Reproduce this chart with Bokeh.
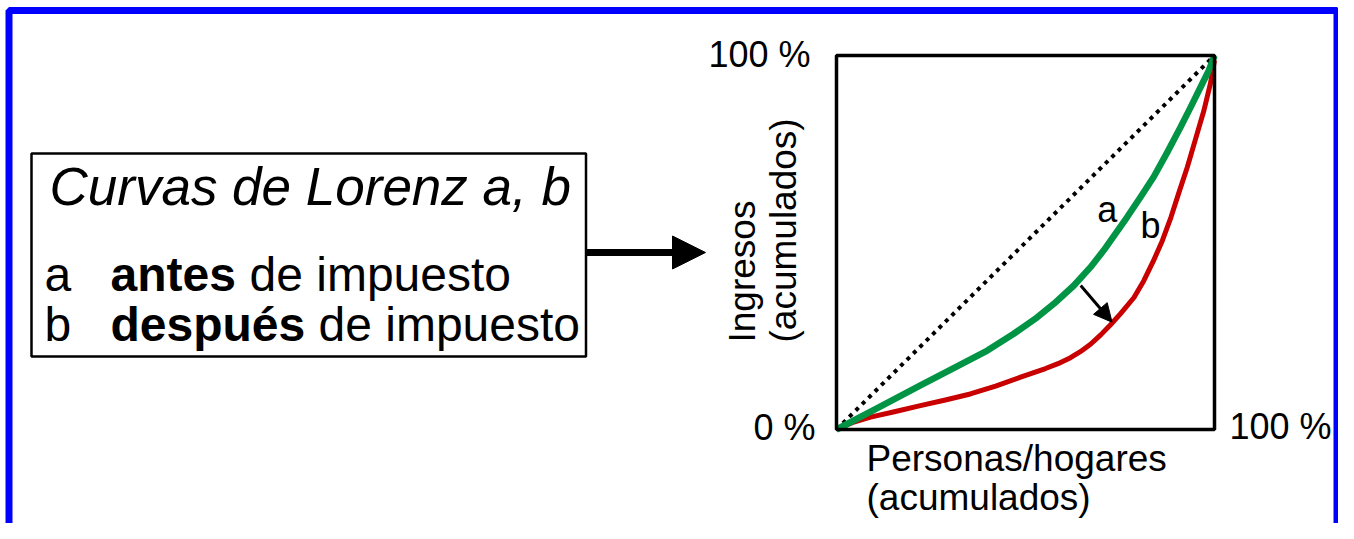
import math
from bokeh.plotting import figure
from bokeh.models import Range1d, Arrow, NormalHead
from bokeh.core.properties import value
from bokeh.embed import file_html
from bokeh.resources import INLINE

# ---------------- data (Lorenz space, 0..100 %) ----------------
equality_x = [0, 100]
equality_y = [0, 100]

curve_a_x = [0, 10.8, 22.2, 31.0, 39.9, 46.9, 53.1, 57.5, 62.8, 67.2, 70.7, 76.9,
             80.4, 83.9, 87.5, 91.0, 93.7, 96.3, 98.5, 100]
curve_a_y = [0, 5.7, 11.8, 16.4, 21.1, 25.6, 30.0, 33.6, 38.5, 43.4, 47.9, 56.8,
             62.1, 67.5, 74.1, 80.8, 86.2, 91.5, 96.0, 100]

curve_b_x = [0, 4.6, 9.0, 15.6, 22.2, 28.8, 35.4, 42.1, 48.7, 55.3, 58.6, 61.9, 64.5,
             67.2, 69.9, 72.5, 75.1, 78.7, 81.3, 83.9, 86.2, 88.5, 90.6, 92.8, 95.0,
             97.2, 98.9, 100]
curve_b_y = [0, 2.0, 3.3, 4.8, 6.4, 7.9, 9.5, 11.6, 14.0, 16.3, 17.6, 19.2, 20.8,
             22.8, 25.3, 28.0, 30.9, 35.3, 39.8, 45.2, 50.5, 56.8, 63.4, 70.1, 77.7,
             85.3, 92.4, 98.7]

shift_arrow_from = (64.6, 38.5)
shift_arrow_to = (72.9, 28.7)

tick_labels = ["0 %", "100 %", "100 %"]
y_title = ["Ingresos", "(acumulados)"]
x_title = ["Personas/hogares", "(acumulados)"]
box_title = "Curvas de Lorenz a, b"
legend_keys = ["a", "b"]
legend_bold = ["antes", "después"]
legend_rest = ["de impuesto", "de impuesto"]

# ---------------- layout (screen pixels) ----------------
W, H = 1338, 523
SQ_L, SQ_R, SQ_T, SQ_B = 836, 1214, 55, 429   # Lorenz square frame
FIX = 0.38   # renderer places alphabetic baseline ~0.38 em lower than given

sx = (SQ_R - SQ_L) / 100.0
sy = (SQ_B - SQ_T) / 100.0


def bl(y, size):
    return y - FIX * size


p = figure(width=W, height=H, output_backend="svg", toolbar_location=None,
           x_range=Range1d(0, W), y_range=Range1d(H, 0),
           x_axis_location=None, y_axis_location=None, min_border=0)
p.grid.visible = False
p.outline_line_color = None
p.background_fill_color = "white"
p.border_fill_color = "white"

p.extra_x_ranges = {"lz": Range1d((0 - SQ_L) / sx, (W - SQ_L) / sx)}
p.extra_y_ranges = {"lz": Range1d((SQ_B - H) / sy, (SQ_B - 0) / sy)}

FONT = value("Liberation Sans")

# blue page border
p.quad(left=8.5, right=1336.5, top=10, bottom=570, fill_color=None,
       line_color="#0000FF", line_width=7)

# ---------------- left box ----------------
p.quad(left=31, right=585.5, top=153, bottom=356, fill_color="white",
       line_color="black", line_width=2.5)
p.text(x=[49], y=[bl(206, 53)], text=[box_title], text_font=FONT, text_font_size="53px",
       text_font_style="italic", text_align="left", text_baseline="alphabetic",
       text_color="black")
p.text(x=[44, 44], y=[bl(292, 48), bl(342, 48)], text=legend_keys, text_font=FONT,
       text_font_size="48px", text_align="left", text_baseline="alphabetic",
       text_color="black")
p.text(x=[110, 110], y=[bl(292, 48), bl(342, 48)], text=legend_bold, text_font=FONT,
       text_font_size="48px", text_font_style="bold", text_align="left",
       text_baseline="alphabetic", text_color="black")
p.text(x=[249, 318], y=[bl(292, 48), bl(342, 48)], text=legend_rest, text_font=FONT,
       text_font_size="48px", text_align="left", text_baseline="alphabetic",
       text_color="black")

# connecting arrow
p.add_layout(Arrow(end=NormalHead(size=33, fill_color="black", line_color="black", line_width=1),
                   x_start=586, y_start=252, x_end=705, y_end=252,
                   line_width=7, line_color="black"))

# ---------------- Lorenz chart ----------------
p.line(equality_x, equality_y, x_range_name="lz", y_range_name="lz",
       line_color="black", line_width=4, line_dash="4 5")
p.line(curve_b_x, curve_b_y, x_range_name="lz", y_range_name="lz",
       line_color="#C80000", line_width=5, line_join="round")
p.line(curve_a_x, curve_a_y, x_range_name="lz", y_range_name="lz",
       line_color="#009444", line_width=6.5, line_join="round")
p.quad(left=[0], right=[100], bottom=[0], top=[100], x_range_name="lz", y_range_name="lz",
       fill_color=None, line_color="black", line_width=3.5)

p.add_layout(Arrow(end=NormalHead(size=18, fill_color="black", line_color="black", line_width=1),
                   x_start=shift_arrow_from[0], y_start=shift_arrow_from[1],
                   x_end=shift_arrow_to[0], y_end=shift_arrow_to[1],
                   line_width=3, line_color="black",
                   x_range_name="lz", y_range_name="lz"))

p.text(x=[69.0, 80.4], y=[58.8, 54.5], text=legend_keys, x_range_name="lz", y_range_name="lz",
       text_font=FONT, text_font_size="36px", text_align="left",
       text_baseline="alphabetic", text_color="black")

# tick labels
p.text(x=[815, 810], y=[bl(441, 36), bl(68, 36)], text=tick_labels[:2], text_font=FONT,
       text_font_size="36px", text_align="right", text_baseline="alphabetic",
       text_color="black")
p.text(x=[1229], y=[bl(440, 36)], text=[tick_labels[2]], text_font=FONT,
       text_font_size="36px", text_align="left", text_baseline="alphabetic",
       text_color="black")

# axis titles (rotated: baseline offset acts along x)
p.text(x=[756 - FIX * 37, 797 - FIX * 37], y=[342, 342], text=y_title, angle=math.pi / 2,
       text_font=FONT, text_font_size="37px", text_align="left",
       text_baseline="alphabetic", text_color="black")
p.text(x=[866, 866], y=[bl(472, 37), bl(511, 37)], text=x_title, text_font=FONT,
       text_font_size="37px", text_align="left", text_baseline="alphabetic",
       text_color="black")

open("out.html", "w").write(file_html(p, INLINE))
